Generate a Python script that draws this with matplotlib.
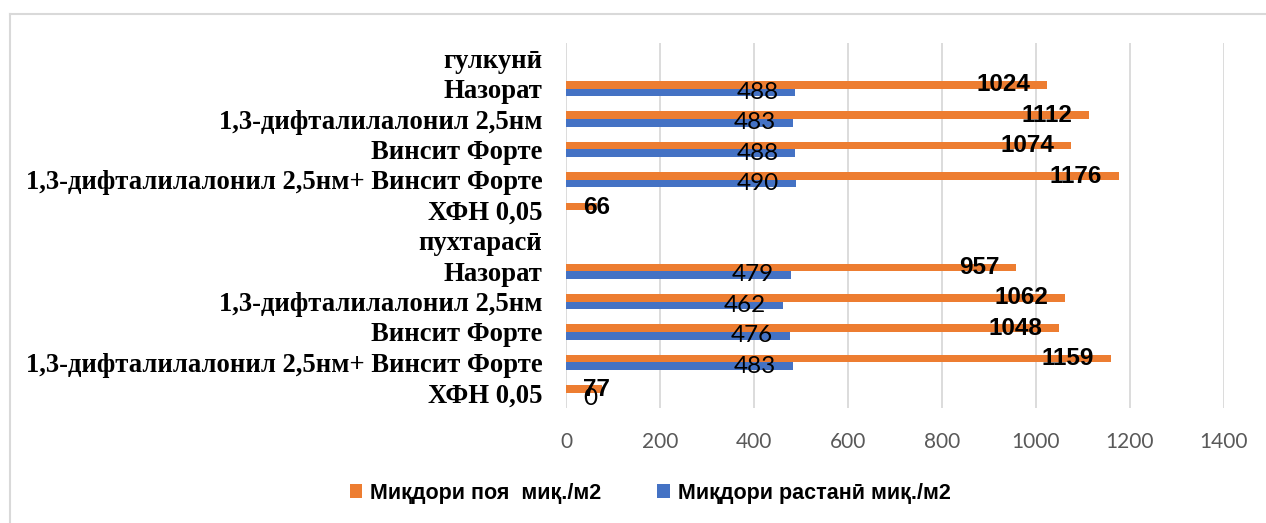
import numpy as np
import matplotlib
matplotlib.use("Agg")
import matplotlib.pyplot as plt
from matplotlib.patches import Patch
from matplotlib.lines import Line2D

categories = ['гулкунӣ', 'Назорат', '1,3-дифталилалонил 2,5нм', 'Винсит Форте',
              '1,3-дифталилалонил 2,5нм+ Винсит Форте', 'ХФН 0,05',
              'пухтарасӣ', 'Назорат', '1,3-дифталилалонил 2,5нм', 'Винсит Форте',
              '1,3-дифталилалонил 2,5нм+ Винсит Форте', 'ХФН 0,05']
poya = [np.nan, 1024, 1112, 1074, 1176, 66, np.nan, 957, 1062, 1048, 1159, 77]
rastani = [np.nan, 488, 483, 488, 490, np.nan, np.nan, 479, 462, 476, 483, 0]
series_names = ['Миқдори поя  миқ./м2', 'Миқдори растанӣ миқ./м2']
xticks = [0, 200, 400, 600, 800, 1000, 1200, 1400]

ORANGE = '#ED7D31'
BLUE = '#4472C4'
NUMFONT = ['Lato', 'DejaVu Sans']
BOLDFONT = ['Liberation Sans', 'DejaVu Sans']
SERIF = ['Liberation Serif', 'DejaVu Serif']

fig = plt.figure(figsize=(12.66, 5.23), dpi=100)
ax = fig.add_axes([566/1266, 1-408/523, (1224-566)/1266, (408-43)/523])

y = np.arange(len(categories))
h = 0.25
ax.barh(y - h/2, poya, height=h, color=ORANGE, zorder=3)
ax.barh(y + h/2, rastani, height=h, color=BLUE, zorder=3)

for yi, v in zip(y, poya):
    if np.isnan(v):
        continue
    if v >= 200:
        ax.text(v - 35, yi - h/2, f'{int(v)}', ha='right', va='center',
                fontsize=17.5, fontweight='bold', family=BOLDFONT, color='black', zorder=4)
    else:
        ax.text(36, yi - h/2 + 0.03, f'{int(v)}', ha='left', va='center',
                fontsize=17.5, fontweight='bold', family=BOLDFONT, color='black', zorder=4)
for yi, v in zip(y, rastani):
    if np.isnan(v):
        continue
    if v >= 200:
        ax.text(v - 36, yi + h/2, f'{int(v)}', ha='right', va='center',
                fontsize=17.5, family=NUMFONT, color='black', zorder=4)
    else:
        ax.text(36, yi + h/2 + 0.06, f'{int(v)}', ha='left', va='center',
                fontsize=17.5, family=NUMFONT, color='black', zorder=4)

ax.set_xlim(0, 1400)
ax.set_ylim(len(categories) - 0.5, -0.5)
ax.set_xticks(xticks)
ax.set_xticklabels([str(t) for t in xticks], family=NUMFONT, fontsize=15, color='#595959')
ax.set_yticks(y)
ax.set_yticklabels(categories, family=SERIF, fontweight='bold', fontsize=19.2, color='black')
ax.tick_params(axis='x', length=0, pad=17)
ax.tick_params(axis='y', length=0, pad=17)
ax.grid(axis='x', color='#D9D9D9', linewidth=1.3, zorder=0)
ax.set_axisbelow(True)
for s in ax.spines.values():
    s.set_visible(False)

handles = [Patch(facecolor=ORANGE, edgecolor='none'), Patch(facecolor=BLUE, edgecolor='none')]
fig.legend(handles, series_names, loc='center', bbox_to_anchor=(650/1266, 1-493/523),
           ncol=2, frameon=False, handlelength=0.6, handleheight=0.6, handletextpad=0.35,
           columnspacing=2.6, prop={'family': BOLDFONT, 'weight': 'bold', 'size': 15.5})

# outer chart frame (top and left visible)
fig.add_artist(Line2D([10/1266, 1], [1-14/523, 1-14/523], transform=fig.transFigure, color='#D9D9D9', lw=1.5))
fig.add_artist(Line2D([10/1266, 10/1266], [0, 1-14/523], transform=fig.transFigure, color='#D9D9D9', lw=1.5))

fig.savefig('out.png', dpi=100)
